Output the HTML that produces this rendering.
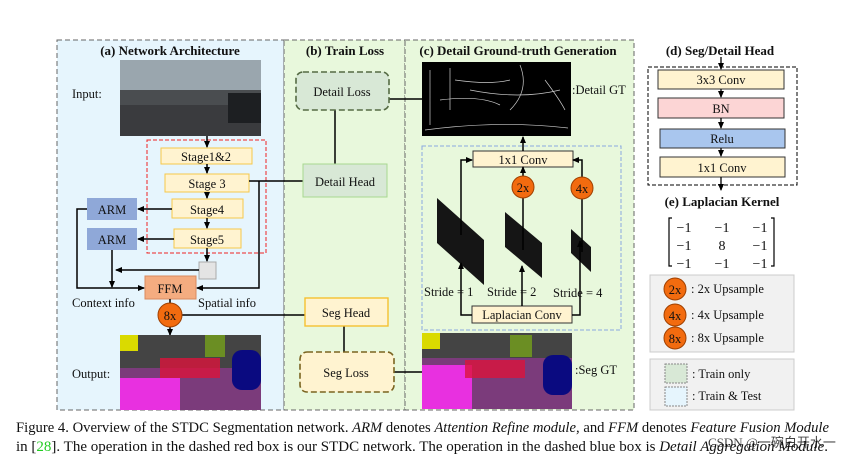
<!DOCTYPE html>
<html><head><meta charset="utf-8"><style>
body{margin:0;background:#fff;width:866px;height:459px;overflow:hidden}
svg{display:block}
text{font-family:"Liberation Serif",serif;fill:#111}
.b{font-weight:bold;font-size:13px}
.t{font-size:12.5px}
</style></head><body>
<svg width="866" height="459" viewBox="0 0 866 459" xmlns="http://www.w3.org/2000/svg">
<defs><marker id="a" markerUnits="userSpaceOnUse" markerWidth="7" markerHeight="7" refX="6" refY="3.5" orient="auto"><path d="M0,0.5 L7,3.5 L0,6.5z" fill="#000"/></marker></defs>
<rect x="57" y="40" width="227" height="370" fill="#e6f5fd" stroke="#666" stroke-dasharray="5,3"/>
<rect x="284" y="40" width="121" height="370" fill="#e8f8dc" stroke="#666" stroke-dasharray="5,3"/>
<rect x="405" y="40" width="229" height="370" fill="#e8f8dc" stroke="#666" stroke-dasharray="5,3"/>
<text class="b" x="170" y="55" text-anchor="middle">(a) Network Architecture</text>
<text class="b" x="345" y="55" text-anchor="middle">(b) Train Loss</text>
<text class="b" x="518" y="55" text-anchor="middle">(c) Detail Ground-truth Generation</text>
<rect x="120" y="60" width="141" height="76" fill="#4a4d50"/>
<rect x="120" y="60" width="141" height="30" fill="#9aa6ae"/>
<rect x="120" y="105" width="141" height="31" fill="#3a3b3e"/>
<rect x="228" y="93" width="33" height="30" fill="#1d1f22"/>
<text class="t" x="72" y="98">Input:</text>
<rect x="147" y="140" width="119" height="113" fill="none" stroke="#e22" stroke-dasharray="4,2"/>
<g fill="#fff3d0" stroke="#f5c84a">
<rect x="161" y="148" width="91" height="16"/><rect x="165" y="174" width="84" height="18"/>
<rect x="172" y="199" width="71" height="19"/><rect x="174" y="229" width="67" height="19"/></g>
<g class="t" text-anchor="middle"><text x="206" y="161">Stage1&amp;2</text><text x="207" y="188">Stage 3</text><text x="207" y="214">Stage4</text><text x="207" y="244">Stage5</text></g>
<rect x="87" y="198" width="50" height="22" fill="#8fa8d8"/><rect x="87" y="228" width="50" height="22" fill="#8fa8d8"/>
<text class="t" x="112" y="214" text-anchor="middle">ARM</text><text class="t" x="112" y="244" text-anchor="middle">ARM</text>
<rect x="199" y="262" width="17" height="17" fill="#e4e4e4" stroke="#aaa"/>
<rect x="145" y="276" width="51" height="23" fill="#f4ac80" stroke="#d88a60"/>
<text class="t" x="170" y="293" text-anchor="middle">FFM</text>
<text class="t" x="72" y="307">Context info</text><text class="t" x="198" y="307">Spatial info</text>
<g stroke="#000" stroke-width="1.5" fill="none">
<path d="M207,136V147" marker-end="url(#a)"/><path d="M207,164V173" marker-end="url(#a)"/>
<path d="M207,192V198" marker-end="url(#a)"/><path d="M207,218V228" marker-end="url(#a)"/>
<path d="M207,248V261" marker-end="url(#a)"/>
<path d="M172,209H138" marker-end="url(#a)"/><path d="M174,239H138" marker-end="url(#a)"/>
<path d="M87,209H77V288H144" marker-end="url(#a)"/>
<path d="M112,250V287" marker-end="url(#a)"/>
<path d="M199,270H116" marker-end="url(#a)"/>
<path d="M249,181H303"/><path d="M259,181V288H197" marker-end="url(#a)"/>
<path d="M170,299V303"/><path d="M170,327V335" marker-end="url(#a)"/>
<path d="M182,315H305"/><path d="M335,110V164"/><path d="M344,326V352"/>
<path d="M389,99H422"/><path d="M394,372H422"/>
</g>
<circle cx="170" cy="315" r="12" fill="#f26b0f" stroke="#a04000"/>
<text class="t" x="170" y="320" text-anchor="middle">8x</text>
<rect x="120" y="335" width="141" height="75" fill="#444"/>
<rect x="120" y="368" width="141" height="42" fill="#7b3b7b"/>
<rect x="120" y="378" width="60" height="32" fill="#e830e0"/>
<rect x="232" y="350" width="29" height="40" rx="10" fill="#0a0a80"/>
<rect x="120" y="335" width="18" height="16" fill="#dada00"/>
<rect x="205" y="335" width="20" height="22" fill="#6b8e23"/>
<rect x="160" y="358" width="60" height="20" fill="#dc143c" opacity=".8"/>
<text class="t" x="72" y="378">Output:</text>
<rect x="296" y="72" width="93" height="38" rx="7" fill="#d8e8d6" stroke="#556b44" stroke-width="1.6" stroke-dasharray="6,3"/>
<text class="t" x="342" y="96" text-anchor="middle">Detail Loss</text>
<rect x="303" y="164" width="84" height="33" fill="#d8e8d6" stroke="#a8d890"/>
<text class="t" x="345" y="186" text-anchor="middle">Detail Head</text>
<rect x="305" y="298" width="83" height="28" fill="#fff3d0" stroke="#f5c030" stroke-width="1.4"/>
<text class="t" x="346" y="317" text-anchor="middle">Seg Head</text>
<rect x="300" y="352" width="94" height="40" rx="7" fill="#fff3d0" stroke="#7a6420" stroke-width="1.6" stroke-dasharray="6,3"/>
<text class="t" x="346" y="377" text-anchor="middle">Seg Loss</text>
<rect x="422" y="62" width="149" height="74" fill="#000"/>
<path d="M425,130 Q500,120 568,128 M430,70 V125 M450,68 V110 M470,90 Q520,100 560,90 M520,65 Q530,90 510,110 M545,80 Q560,100 565,110 M440,100 Q480,95 500,105 M455,80 Q490,85 510,80" stroke="#ccc" stroke-width=".7" fill="none"/>
<text class="t" x="572" y="94">:Detail GT</text>
<rect x="422" y="146" width="199" height="184" fill="none" stroke="#8aa8e0" stroke-dasharray="4,2"/>
<rect x="473" y="151" width="100" height="16" fill="#fff3d0" stroke="#333"/>
<text class="t" x="523" y="164" text-anchor="middle">1x1 Conv</text>
<polygon points="437,198 484,240 484,285 437,243" fill="#151515"/>
<polygon points="505,212 542,243 542,278 505,247" fill="#151515"/>
<polygon points="571,229 591,247 591,272 571,253" fill="#151515"/>
<rect x="472" y="306" width="100" height="17" fill="#fff3d0" stroke="#333"/>
<text class="t" x="522" y="319" text-anchor="middle">Laplacian Conv</text>
<g stroke="#000" stroke-width="1.5" fill="none">
<path d="M523,151V137" marker-end="url(#a)"/>
<path d="M472,315H461V263" marker-end="url(#a)"/>
<path d="M461,235V160H472" marker-end="url(#a)"/>
<path d="M572,315H580V241" marker-end="url(#a)"/>
<path d="M582,199V160H573" marker-end="url(#a)"/>
<path d="M522,306V266" marker-end="url(#a)"/><path d="M523,176V167" marker-end="url(#a)"/>
<path d="M523,198V250"/><path d="M582,177V252"/>
</g>
<circle cx="523" cy="187" r="11" fill="#f26b0f" stroke="#a04000"/><text class="t" x="523" y="192" text-anchor="middle">2x</text>
<circle cx="582" cy="188" r="11" fill="#f26b0f" stroke="#a04000"/><text class="t" x="582" y="193" text-anchor="middle">4x</text>
<text class="t" x="424" y="296">Stride = 1</text><text class="t" x="487" y="296">Stride = 2</text><text class="t" x="553" y="297">Stride = 4</text>
<rect x="422" y="333" width="150" height="76" fill="#7b3b7b"/>
<rect x="422" y="333" width="150" height="25" fill="#444"/>
<rect x="422" y="365" width="50" height="44" fill="#e830e0"/>
<rect x="543" y="355" width="29" height="40" rx="10" fill="#0a0a80"/>
<rect x="422" y="333" width="18" height="16" fill="#dada00"/>
<rect x="510" y="335" width="22" height="22" fill="#6b8e23"/>
<rect x="465" y="360" width="60" height="18" fill="#dc143c" opacity=".8"/>
<text class="t" x="575" y="374">:Seg GT</text>
<text class="b" x="720" y="55" text-anchor="middle">(d) Seg/Detail Head</text>
<rect x="648" y="67" width="149" height="118" fill="none" stroke="#000" stroke-dasharray="4,2"/>
<rect x="658" y="70" width="126" height="19" fill="#fff3d0" stroke="#333"/>
<rect x="658" y="98" width="126" height="20" fill="#fcd5d5" stroke="#333"/>
<rect x="660" y="129" width="125" height="19" fill="#a9c6ee" stroke="#333"/>
<rect x="660" y="157" width="125" height="20" fill="#fff3d0" stroke="#333"/>
<g class="t" text-anchor="middle"><text x="721" y="84">3x3 Conv</text><text x="721" y="113">BN</text><text x="722" y="143">Relu</text><text x="722" y="172">1x1 Conv</text></g>
<g stroke="#000" stroke-width="1.3" fill="none">
<path d="M721,57V69" marker-end="url(#a)"/><path d="M721,89V97" marker-end="url(#a)"/>
<path d="M721,118V128" marker-end="url(#a)"/><path d="M721,148V156" marker-end="url(#a)"/>
<path d="M721,177V190" marker-end="url(#a)"/></g>
<text class="b" x="722" y="206" text-anchor="middle">(e) Laplacian Kernel</text>
<path d="M672,218H669V266H672 M771,218H774V266H771" stroke="#000" fill="none" stroke-width="1.2"/>
<g font-size="14" text-anchor="middle" font-family="DejaVu Sans,sans-serif">
<text x="684" y="232">−1</text><text x="722" y="232">−1</text><text x="760" y="232">−1</text>
<text x="684" y="250">−1</text><text x="722" y="250">8</text><text x="760" y="250">−1</text>
<text x="684" y="268">−1</text><text x="722" y="268">−1</text><text x="760" y="268">−1</text></g>
<rect x="650" y="275" width="144" height="77" fill="#f1f1f1" stroke="#ccc"/>
<circle cx="675" cy="289" r="11" fill="#f26b0f" stroke="#a04000"/><text class="t" x="675" y="294" text-anchor="middle">2x</text>
<circle cx="675" cy="315" r="11" fill="#f26b0f" stroke="#a04000"/><text class="t" x="675" y="320" text-anchor="middle">4x</text>
<circle cx="675" cy="338" r="11" fill="#f26b0f" stroke="#a04000"/><text class="t" x="675" y="343" text-anchor="middle">8x</text>
<text class="t" x="691" y="293">: 2x Upsample</text><text class="t" x="691" y="319">: 4x Upsample</text><text class="t" x="691" y="342">: 8x Upsample</text>
<rect x="650" y="359" width="144" height="51" fill="#f1f1f1" stroke="#ccc"/>
<rect x="665" y="364" width="22" height="19" fill="#d8e8d6" stroke="#888" stroke-dasharray="2,1"/>
<rect x="665" y="387" width="22" height="19" fill="#e6f5fd" stroke="#888" stroke-dasharray="2,1"/>
<text class="t" x="692" y="378">: Train only</text><text class="t" x="692" y="400">: Train &amp; Test</text>
<text font-size="14.5" x="16" y="432" textLength="813" lengthAdjust="spacingAndGlyphs">Figure 4. Overview of the STDC Segmentation network. <tspan font-style="italic">ARM</tspan> denotes <tspan font-style="italic">Attention Refine module</tspan>, and <tspan font-style="italic">FFM</tspan> denotes <tspan font-style="italic">Feature Fusion Module</tspan></text>
<text font-size="14.5" x="16" y="451" textLength="812" lengthAdjust="spacingAndGlyphs">in  [<tspan fill="#2c2">28</tspan>]. The operation in the dashed red box is our STDC network. The operation in the dashed blue box is <tspan font-style="italic">Detail Aggregation Module</tspan>.</text>
<text font-size="13" x="708" y="447" fill="#999" font-family="Liberation Sans,Noto Sans CJK SC,sans-serif" opacity=".8">CSDN @一碗白开水一</text>
</svg>
</body></html>
